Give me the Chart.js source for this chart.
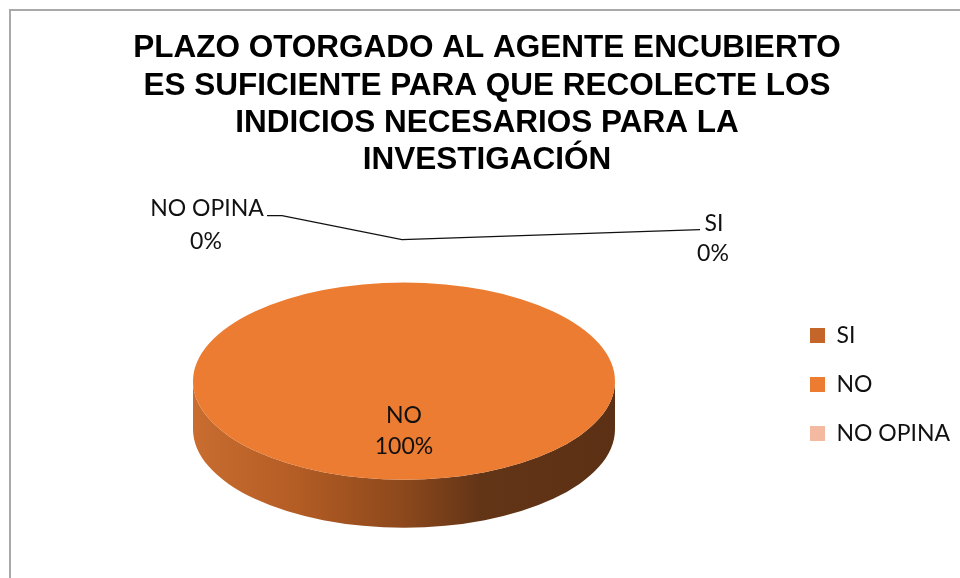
<!DOCTYPE html>
<html><head><meta charset="utf-8">
<script src="https://cdn.jsdelivr.net/npm/chart.js@4.4.0/dist/chart.umd.min.js"></script>
<style>
html,body{margin:0;padding:0;background:#fff;}
#wrap{position:relative;width:960px;height:578px;overflow:hidden;}
#frame{position:absolute;left:9px;top:9px;width:1000px;height:620px;border:2px solid #a9a9a9;box-sizing:border-box;}
canvas{position:absolute;left:0;top:0;}
</style></head><body>
<div id="wrap"><div id="frame"></div><canvas id="c" width="960" height="578"></canvas></div>
<script>
const titleLines = [
  'PLAZO OTORGADO AL AGENTE ENCUBIERTO',
  'ES SUFICIENTE PARA QUE RECOLECTE LOS',
  'INDICIOS NECESARIOS PARA LA',
  'INVESTIGACIÓN'
];
const categories = ['SI', 'NO', 'NO OPINA'];
const values = [0, 100, 0];
const sliceColors = ['#C4652A', '#EB7C31', '#F4B9A1'];

const LABEL_FONT = '23px Lato';
const TILT = 0.467;     // vertical squash of the pie top
const DEPTH = 48;       // thickness of the 3D side

const pie3d = {
  id: 'pie3d',
  beforeDatasetsDraw(chart) {
    const arc = chart.getDatasetMeta(0).data[1];
    const ctx = chart.ctx;
    const cx = arc.x, cy = arc.y, rx = arc.outerRadius, ry = rx * TILT;
    ctx.save();
    const g = ctx.createLinearGradient(cx - rx, 0, cx + rx, 0);
    g.addColorStop(0, '#C96D30');
    g.addColorStop(0.25, '#B35C24');
    g.addColorStop(0.5, '#8C481C');
    g.addColorStop(0.68, '#633517');
    g.addColorStop(1, '#5C3014');
    ctx.beginPath();
    ctx.ellipse(cx, cy, rx, ry, 0, 0, Math.PI, false);
    ctx.lineTo(cx - rx, cy + DEPTH);
    ctx.ellipse(cx, cy + DEPTH, rx, ry, 0, Math.PI, 0, true);
    ctx.closePath();
    ctx.fillStyle = g;
    ctx.fill();
    ctx.translate(0, cy);
    ctx.scale(1, TILT);
    ctx.translate(0, -cy);
  },
  afterDatasetsDraw(chart) {
    chart.ctx.restore();
  },
  afterDraw(chart) {
    const meta = chart.getDatasetMeta(0);
    const arc = meta.data[1];
    const ctx = chart.ctx;
    const total = values.reduce((a, b) => a + b, 0);
    const pct = v => Math.round(v / total * 100) + '%';
    const cx = arc.x, cy = arc.y, ry = arc.outerRadius * TILT;
    const topY = cy - ry;
    ctx.save();
    ctx.font = LABEL_FONT;
    ctx.fillStyle = '#111';
    ctx.textAlign = 'center';
    ctx.textBaseline = 'middle';
    ctx.fillText(categories[1], cx, cy + 34);
    ctx.fillText(pct(values[1]), cx, cy + 65);
    ctx.fillText(categories[2], cx - 197, topY - 74);
    ctx.fillText(pct(values[2]), cx - 198, topY - 41);
    ctx.fillText(categories[0], cx + 310, topY - 59);
    ctx.fillText(pct(values[0]), cx + 309, topY - 29);
    ctx.strokeStyle = '#111';
    ctx.lineWidth = 1.2;
    ctx.beginPath();
    ctx.moveTo(cx - 137, topY - 67);
    ctx.lineTo(cx - 122, topY - 67);
    ctx.lineTo(cx - 2, topY - 43);
    ctx.lineTo(cx + 296, topY - 53);
    ctx.stroke();
    ctx.restore();
  }
};

new Chart(document.getElementById('c'), {
  type: 'pie',
  data: {
    labels: categories,
    datasets: [{
      data: values,
      backgroundColor: sliceColors,
      borderWidth: 0,
      radius: 211
    }]
  },
  options: {
    responsive: false,
    animation: false,
    devicePixelRatio: 1,
    layout: { padding: { left: 24, right: 10, top: 0, bottom: 5 } },
    plugins: {
      title: {
        display: true,
        text: titleLines,
        color: '#000',
        font: { family: 'Liberation Sans', size: 31.5, weight: 'bold', lineHeight: 1.185 },
        padding: { top: 30, bottom: 10 }
      },
      legend: {
        position: 'right',
        maxWidth: 166,
        title: {
          display: true,
          text: ' ',
          font: { size: 10, lineHeight: 1.2 },
          padding: { top: 184, bottom: 0 }
        },
        labels: {
          color: '#111',
          font: { family: 'Lato', size: 23 },
          boxWidth: 15,
          boxHeight: 15,
          padding: 26
        }
      },
      tooltip: { enabled: false }
    }
  },
  plugins: [pie3d]
});
</script>
</body></html>
